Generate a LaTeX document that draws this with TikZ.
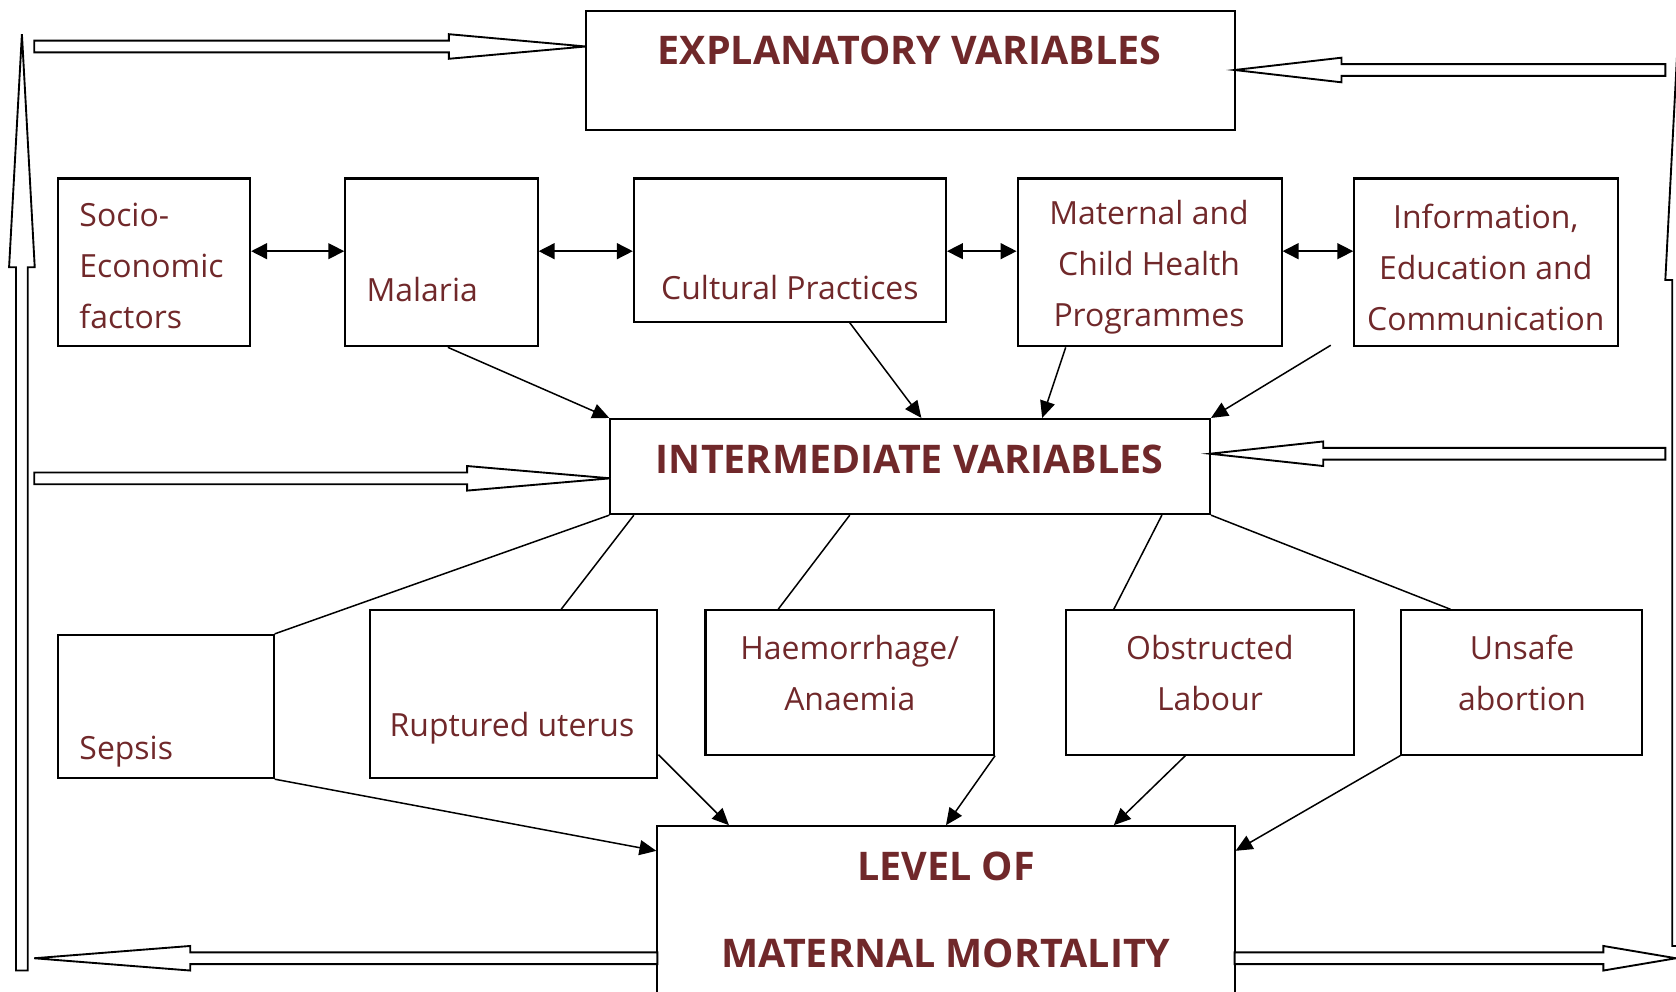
\documentclass[tikz,border=0pt]{standalone}
\usepackage{fontspec}
\setmainfont{Open Sans}
\usepackage{tikz}
\usetikzlibrary{arrows.meta,fit}
\definecolor{inkred}{RGB}{112,40,42}

% hollow block arrows: horizontal (y, tail x, head-base x, tip x)
\newcommand{\harrow}[4]{%
  \draw[hollow] (#2,#1-5.5) -- (#3,#1-5.5) -- (#3,#1-11.5) -- (#4,#1)
    -- (#3,#1+11.5) -- (#3,#1+5.5) -- (#2,#1+5.5) -- cycle;}
% vertical (x, tail y, head-base y, tip y)
\newcommand{\varrow}[4]{%
  \draw[hollow] (#1-5.5,#2) -- (#1-5.5,#3) -- (#1-12,#3) -- (#1,#4)
    -- (#1+12,#3) -- (#1+5.5,#3) -- (#1+5.5,#2) -- cycle;}

\begin{document}
\begin{tikzpicture}[
    x=0.02cm, y=-0.02cm,
    % --- node styles ---
    box/.style={draw, line width=1.1pt, inner sep=0pt},
    txt/.style={text=inkred, inner sep=0pt, align=center,
      font=\fontsize{17}{27.2}\selectfont},
    head/.style={txt, font=\fontsize{21}{46.5}\selectfont\bfseries},
    arr/.style={-{Triangle[length=9pt,width=8pt]}, line width=0.8pt},
    both/.style={{Triangle[length=8.5pt,width=8.5pt]}-{Triangle[length=8.5pt,width=8.5pt]}, line width=0.8pt},
    link/.style={line width=0.8pt},
    hollow/.style={draw, line width=1pt, fill=white, line join=miter},
  ]
  \useasboundingbox (0,0) rectangle (1568,928);
  \clip (0,0) rectangle (1568,928);

  % ============== BOXES ==============
  \node[box, fit={(548,10)(1155,122)}]   (expl)   {};
  \node[box, fit={(54,167)(234,324)}]    (socio)  {};
  \node[box, fit={(323,167)(503,324)}]   (malaria){};
  \node[box, fit={(593,167)(885,301)}]   (cult)   {};
  \node[box, fit={(952,167)(1199,324)}]  (mch)    {};
  \node[box, fit={(1267,167)(1514,324)}] (iec)    {};
  \node[box, fit={(571,392)(1132,481)}]  (inter)  {};
  \node[box, fit={(54,594)(256,728)}]    (sepsis) {};
  \node[box, fit={(346,571)(615,728)}]   (rupt)   {};
  \node[box, fit={(660,571)(930,706)}]   (haem)   {};
  \node[box, fit={(997,571)(1267,706)}]  (obst)   {};
  \node[box, fit={(1311,571)(1536,706)}] (unsafe) {};
  \node[box, fit={(615,773)(1155,950)}]  (level)  {};

  % ============== TEXTS ==============
  \node[head] (explT) at (851,47) {EXPLANATORY VARIABLES};
  \node[txt, align=left, anchor=west] (socioT) at (74,249) {Socio-\\Economic\\factors};
  \node[txt] (malariaT) at (395,271) {Malaria};
  \node[txt] (cultT) at (739,269) {Cultural Practices};
  \node[txt] (mchT) at (1075,250) {Maternal and\\Child Health\\Programmes};
  \node[txt] (iecT) at (1390,250) {Information,\\Education and\\Communication};
  \node[head] (interT) at (851,430) {INTERMEDIATE VARIABLES};
  \node[txt, anchor=west] (sepsisT) at (74,703) {Sepsis};
  \node[txt] (ruptT) at (479,681) {Ruptured uterus};
  \node[txt] (haemT) at (795,630) {Haemorrhage/\\Anaemia};
  \node[txt] (obstT) at (1132,630) {Obstructed\\Labour};
  \node[txt] (unsafeT) at (1424,630) {Unsafe\\abortion};
  \node[head] (levelT) at (885,851) {LEVEL OF\\MATERNAL MORTALITY};

  % ============== ARROWS: top row ==============
  \draw[both] (socio.east |- 0,235)   -- (malaria.west |- 0,235);
  \draw[both] (malaria.east |- 0,235) -- (cult.west |- 0,235);
  \draw[both] (cult.east |- 0,235)    -- (mch.west |- 0,235);
  \draw[both] (mch.east |- 0,235)     -- (iec.west |- 0,235);

  \coordinate (iecfoot) at (1245,323);
  \draw[arr] (419,0 |- malaria.south) -- (inter.north west);
  \draw[arr] (795,0 |- cult.south)    -- (862,0 |- inter.north);
  \draw[arr] (997,0 |- mch.south)     -- (975,0 |- inter.north);
  \draw[arr] (iecfoot)                -- (inter.north east);

  % ============== LINKS: causes ==============
  \draw[link] (inter.south west)      -- (sepsis.north east);
  \draw[link] (593,0 |- inter.south)  -- (525,0 |- rupt.north);
  \draw[link] (795,0 |- inter.south)  -- (728,0 |- haem.north);
  \draw[link] (1087,0 |- inter.south) -- (1042,0 |- obst.north);
  \draw[link] (inter.south east)      -- (1357,0 |- unsafe.north);

  \draw[arr] (sepsis.south east)      -- (level.west |- 0,796);
  \draw[arr] (rupt.east |- 0,706)     -- (682,0 |- level.north);
  \draw[arr] (haem.south east)        -- (885,0 |- level.north);
  \draw[arr] (1109,0 |- obst.south)   -- (1042,0 |- level.north);
  \draw[arr] (unsafe.south west)      -- (level.east |- 0,796);

  % ============== FEEDBACK LOOP ==============
  \harrow{896.5}{615}{178}{32}
  \harrow{896.5}{1155}{1500}{1568}
  \varrow{20.5}{908}{250}{32}
  \varrow{1570}{885}{262}{32}
  \harrow{43.5}{32}{420}{548}
  \harrow{447.5}{32}{437}{571}
  \harrow{65.5}{1558}{1255}{1155}
  \harrow{424.5}{1558}{1238}{1132}

\end{tikzpicture}
\end{document}
